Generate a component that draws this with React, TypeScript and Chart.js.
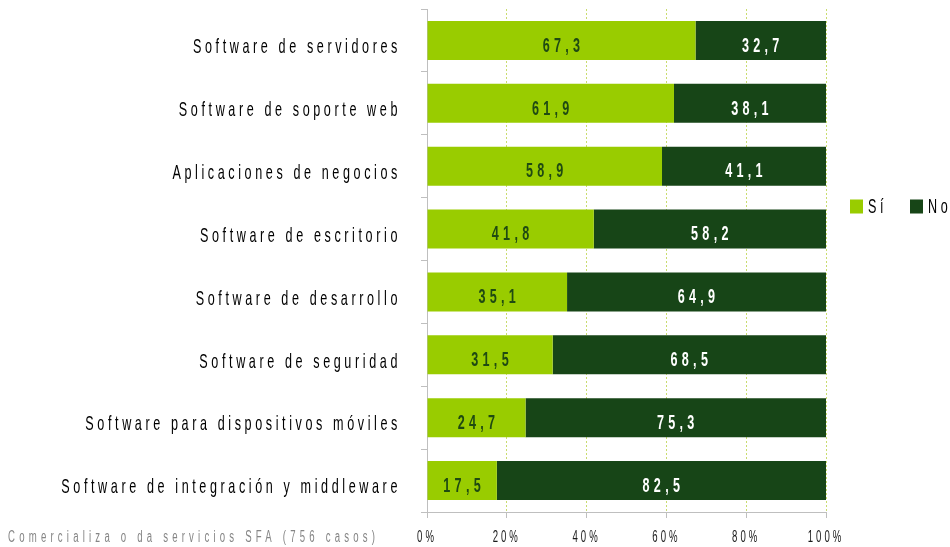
import React, { useEffect, useRef } from 'react';
import { Chart, registerables } from 'chart.js';

Chart.register(...registerables);

const categories = [
  'Software de servidores',
  'Software de soporte web',
  'Aplicaciones de negocios',
  'Software de escritorio',
  'Software de desarrollo',
  'Software de seguridad',
  'Software para dispositivos móviles',
  'Software de integración y middleware',
];
const siValues = [67.3, 61.9, 58.9, 41.8, 35.1, 31.5, 24.7, 17.5];
const noValues = [32.7, 38.1, 41.1, 58.2, 64.9, 68.5, 75.3, 82.5];
const seriesNames = ['Sí', 'No'];
const seriesColors = ['#99cc00', '#174517'];
const valueLabelColors = ['#1f4a12', '#ffffff'];
const footnote = 'Comercializa o da servicios SFA (756 casos)';

const FONT = '"Liberation Sans", Arial, sans-serif';
// horizontal condensing of all text drawn on the canvas
const SX = 0.6;
const sp = (visual: number) => `${visual / SX}px`;

const fmt = (v: number) => v.toFixed(1).replace('.', ',');

function condenseText(ctx: any) {
  if (!ctx.__origFillText) ctx.__origFillText = ctx.fillText;
  const orig = ctx.__origFillText;
  ctx.fillText = function (text: string, x: number, y: number) {
    this.save();
    this.translate(x, y);
    this.scale(SX, 1);
    orig.call(this, text, 0, 0);
    this.restore();
  };
}

const drawPlugin = {
  id: 'customDraw',
  beforeInit(chart: any) {
    condenseText(chart.ctx);
  },
  beforeDraw(chart: any) {
    chart.ctx.letterSpacing = sp(3.6);
  },
  afterDatasetsDraw(chart: any) {
    // x tick labels are drawn after datasets (ticks.z = 1)
    chart.ctx.letterSpacing = sp(3);
  },
  afterDraw(chart: any) {
    const ctx = chart.ctx as any;
    const area = chart.chartArea;
    // value labels
    chart.data.datasets.forEach((ds: any, di: number) => {
      const meta = chart.getDatasetMeta(di);
      meta.data.forEach((bar: any, i: number) => {
        const p = bar.getProps(['x', 'y', 'base'], true);
        const cx = (p.x + p.base) / 2;
        ctx.save();
        ctx.letterSpacing = sp(4.3);
        ctx.font = `bold 21px ${FONT}`;
        ctx.fillStyle = valueLabelColors[di];
        ctx.textAlign = 'center';
        ctx.textBaseline = 'middle';
        ctx.fillText(fmt(ds.data[i]), cx + 2, p.y + 5.5);
        ctx.restore();
      });
    });
    // legend
    const lx = area.right + 24;
    const ly = area.top + 197.5;
    seriesNames.forEach((name, i) => {
      const x = lx + i * 60;
      ctx.save();
      ctx.fillStyle = seriesColors[i];
      ctx.fillRect(x, ly - 7, 13, 14);
      ctx.letterSpacing = sp(3.6);
      ctx.font = `21px ${FONT}`;
      ctx.fillStyle = '#000000';
      ctx.textAlign = 'left';
      ctx.textBaseline = 'middle';
      ctx.fillText(name, x + 18, ly + 1);
      ctx.restore();
    });
    // footnote
    ctx.save();
    ctx.font = `16px ${FONT}`;
    ctx.letterSpacing = '0px';
    const w = ctx.measureText(footnote).width * SX;
    const gap = Math.max(0, (367 - w) / (footnote.length - 1));
    ctx.letterSpacing = sp(gap);
    ctx.fillStyle = '#858585';
    ctx.textAlign = 'left';
    ctx.textBaseline = 'middle';
    ctx.fillText(footnote, 8, 538);
    ctx.restore();
  },
};

export default function App() {
  const ref = useRef<HTMLCanvasElement>(null);
  useEffect(() => {
    if (!ref.current) return;
    const chart = new Chart(ref.current, {
      type: 'bar',
      data: {
        labels: categories,
        datasets: [
          {
            label: seriesNames[0],
            data: siValues,
            backgroundColor: seriesColors[0],
            barPercentage: 0.62,
            categoryPercentage: 1,
          },
          {
            label: seriesNames[1],
            data: noValues,
            backgroundColor: seriesColors[1],
            barPercentage: 0.62,
            categoryPercentage: 1,
          },
        ],
      },
      options: {
        indexAxis: 'y',
        responsive: false,
        animation: false,
        layout: { padding: { left: 0, right: 124, top: 9, bottom: 0 } },
        plugins: {
          legend: { display: false },
          tooltip: { enabled: false },
        },
        scales: {
          x: {
            stacked: true,
            min: 0,
            max: 100,
            afterFit: (s: any) => {
              s.height = 35;
              s.paddingLeft = 0;
              s.paddingRight = 0;
            },
            ticks: {
              stepSize: 20,
              callback: (v: any) => `${v}%`,
              font: { family: FONT, size: 16 },
              color: '#1a1a1a',
              padding: 10,
              maxRotation: 0,
              autoSkip: false,
              z: 1,
            },
            grid: {
              color: (c: any) => (c.tick && c.tick.value === 0 ? 'rgba(0,0,0,0)' : '#c9dc6e'),
              lineWidth: 1,
              tickColor: '#bfbfbf',
              tickLength: 6,
              drawTicks: true,
            },
            border: { display: true, color: '#bfbfbf', dash: [2, 2] },
          },
          y: {
            stacked: true,
            afterFit: (s: any) => {
              s.width = 427;
              s.paddingTop = 0;
              s.paddingBottom = 0;
            },
            ticks: {
              font: { family: FONT, size: 21 },
              color: '#000000',
              padding: 20,
              labelOffset: 7,
              autoSkip: false,
            },
            grid: {
              drawOnChartArea: false,
              tickColor: '#bfbfbf',
              tickLength: 6,
            },
            border: { display: true, color: '#bfbfbf' },
          },
        },
      },
      plugins: [drawPlugin],
    } as any);
    return () => chart.destroy();
  }, []);
  return (
    <div style={{ position: 'fixed', left: 0, top: 0, width: 950, height: 547 }}>
      <canvas ref={ref} width={950} height={547} style={{ display: 'block', width: 950, height: 547 }} />
    </div>
  );
}
